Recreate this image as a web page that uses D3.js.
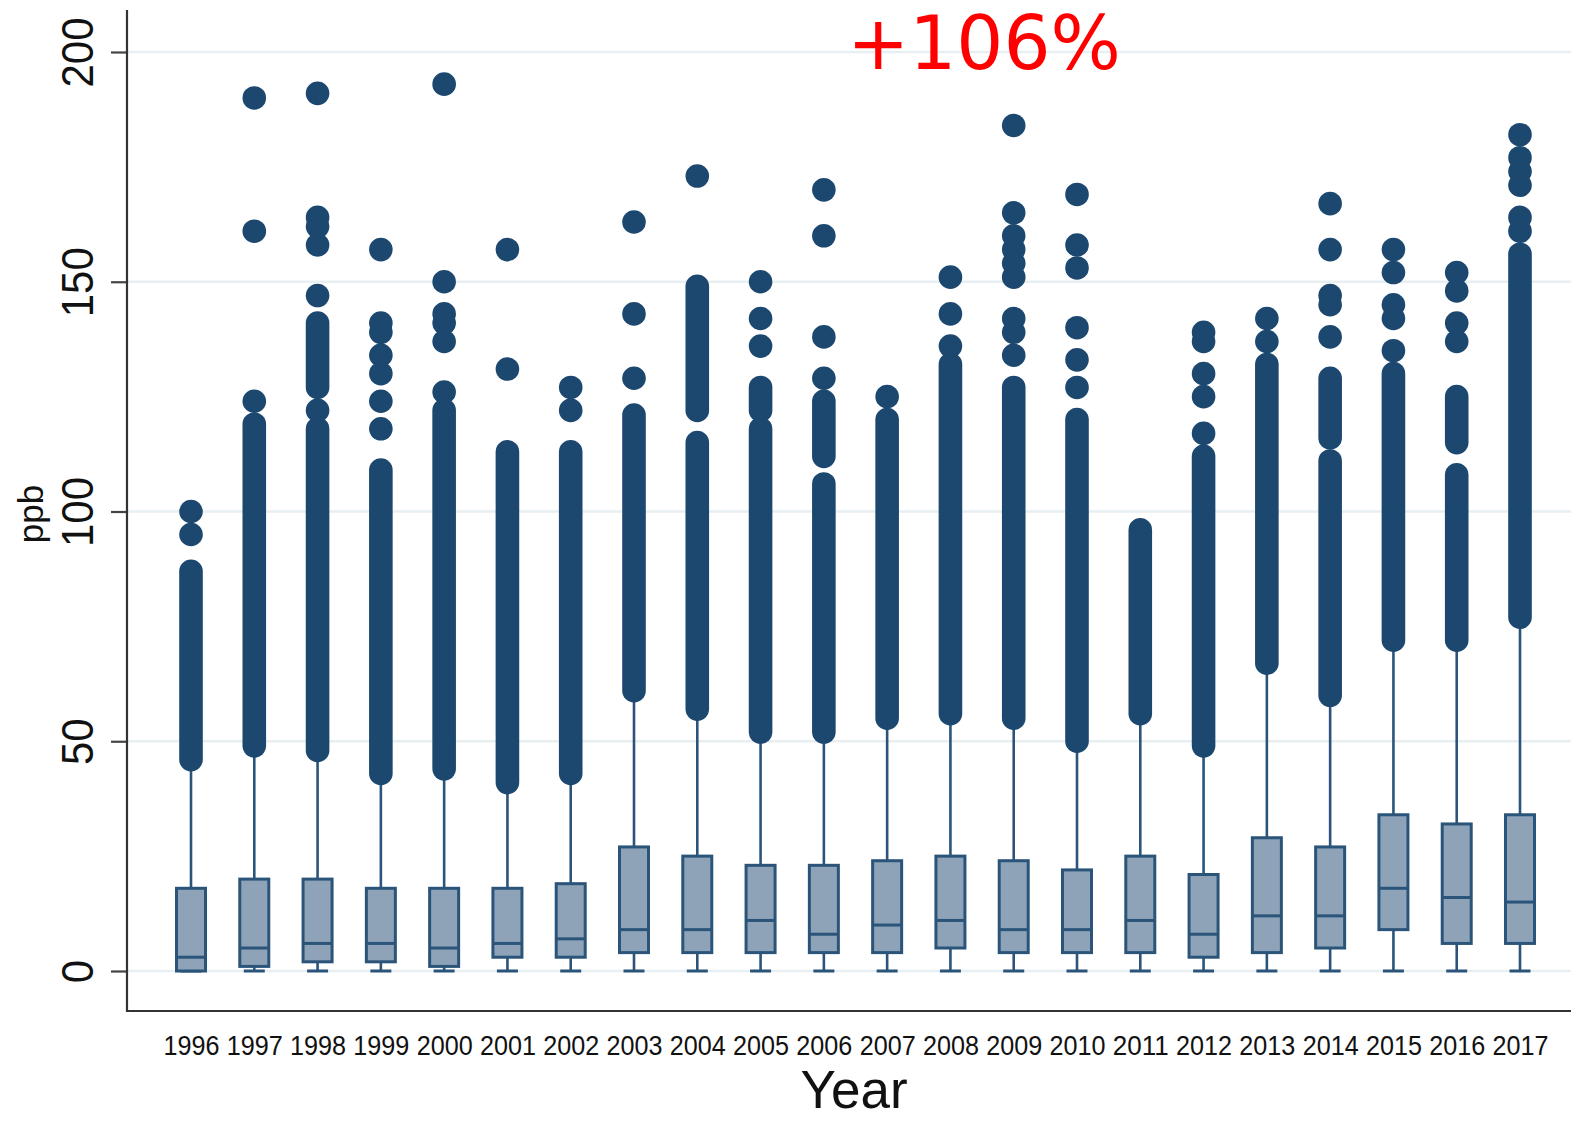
<!DOCTYPE html>
<html>
<head>
<meta charset="utf-8">
<script src="https://cdn.jsdelivr.net/npm/d3@7"></script>
<style>
  body { margin: 0; background: #fff; }
  svg { display: block; }
</style>
</head>
<body>
<svg width="1571" height="1121"></svg>
<script>
// ozone-ish ppb by year
const years = ["1996", "1997", "1998", "1999", "2000", "2001", "2002", "2003", "2004", "2005", "2006",
    "2007", "2008", "2009", "2010", "2011", "2012", "2013", "2014", "2015", "2016", "2017"];

const q1 =     [0, 1, 2, 2, 1, 3, 3, 4, 4, 4, 4, 4, 5, 4, 4, 4, 3, 4, 5, 9, 6, 6];
const median = [3, 5, 6, 6, 5, 6, 7, 9, 9, 11, 8, 10, 11, 9, 9, 11, 8, 12, 12, 18, 16, 15];
const q3 =     [18, 20, 20, 18, 18, 18, 19, 27, 25, 23, 23, 24, 25, 24, 22, 25, 21, 29, 27, 34, 32, 34];
const whiskerLo = [0, 0, 0, 0, 0, 0, 0, 0, 0, 0, 0, 0, 0, 0, 0, 0, 0, 0, 0, 0, 0, 0];
const whiskerHi = [45, 47, 46, 42, 43, 40, 42, 60, 56, 51, 51, 54, 55, 54, 49, 55, 48, 66, 60, 71, 71, 76];

// runs of outside values so packed that the dots merge into a column
const denseRuns = [
    [[46, 87]],
    [[49, 119]],
    [[48, 118], [127, 141]],
    [[43, 109]],
    [[44, 122]],
    [[41, 113]],
    [[43, 113]],
    [[61, 121]],
    [[57, 115], [122, 149]],
    [[52, 118], [122, 127]],
    [[52, 106], [112, 124]],
    [[55, 120]],
    [[56, 132]],
    [[55, 127]],
    [[50, 120]],
    [[56, 96]],
    [[49, 112]],
    [[67, 132]],
    [[60, 111], [116, 129]],
    [[72, 130]],
    [[72, 108], [115, 125]],
    [[77, 156]]
];

// single outside values
const outliers = [
    [95, 100],
    [124, 161, 190],
    [122, 147, 158, 162, 164, 191],
    [118, 124, 130, 134, 139, 141, 157],
    [126, 137, 141, 143, 150, 193],
    [131, 157],
    [122, 127],
    [129, 143, 163],
    [173],
    [136, 142, 150],
    [129, 138, 160, 170],
    [125],
    [136, 143, 151],
    [134, 139, 142, 151, 154, 157, 160, 165, 184],
    [127, 133, 140, 153, 158, 169],
    [],
    [117, 125, 130, 137, 139],
    [137, 142],
    [138, 145, 147, 157, 167],
    [135, 142, 145, 152, 157],
    [137, 141, 148, 152],
    [161, 164, 171, 174, 177, 182]
];

const yTicks = [0, 50, 100, 150, 200];
const note = "+106%";

const dotColor = "#1c4870";
const lineColor = "#2a5479";
const boxFill = "#8ea3b8";
const boxW = 29, capW = 21, dotR = 11.8;

const svg = d3.select("svg");

const x = d3.scalePoint().domain(years).range([191, 1520]);
const y = d3.scaleLinear().domain([0, 200]).range([971, 52]);

// grid
svg.append("g")
    .selectAll("line")
    .data(yTicks)
    .join("line")
    .attr("x1", 128).attr("x2", 1571)
    .attr("y1", d => y(d)).attr("y2", d => y(d))
    .attr("stroke", "#e7eff2")
    .attr("stroke-width", 2.5);

const rows = years.map((yr, i) => ({
    yr: yr, q1: q1[i], med: median[i], q3: q3[i],
    lo: whiskerLo[i], hi: whiskerHi[i],
    runs: denseRuns[i], pts: outliers[i]
}));

const g = svg.append("g");
const item = g.selectAll("g.yr").data(rows).join("g").attr("class", "yr");

// whiskers
item.append("line")
    .attr("x1", d => x(d.yr)).attr("x2", d => x(d.yr))
    .attr("y1", d => y(d.q3)).attr("y2", d => y(d.hi))
    .attr("stroke", lineColor).attr("stroke-width", 2.6);
item.append("line")
    .attr("x1", d => x(d.yr)).attr("x2", d => x(d.yr))
    .attr("y1", d => y(d.q1)).attr("y2", d => y(d.lo))
    .attr("stroke", lineColor).attr("stroke-width", 2.6);
item.append("line")
    .attr("x1", d => x(d.yr) - capW / 2).attr("x2", d => x(d.yr) + capW / 2)
    .attr("y1", d => y(d.lo)).attr("y2", d => y(d.lo))
    .attr("stroke", lineColor).attr("stroke-width", 3);

// boxes
item.append("rect")
    .attr("x", d => x(d.yr) - boxW / 2)
    .attr("width", boxW)
    .attr("y", d => y(d.q3))
    .attr("height", d => y(d.q1) - y(d.q3))
    .attr("fill", boxFill)
    .attr("stroke", lineColor)
    .attr("stroke-width", 3);
item.append("line")
    .attr("x1", d => x(d.yr) - boxW / 2).attr("x2", d => x(d.yr) + boxW / 2)
    .attr("y1", d => y(d.med)).attr("y2", d => y(d.med))
    .attr("stroke", lineColor).attr("stroke-width", 3);

// outside values
item.selectAll("line.run")
    .data(d => d.runs.map(r => ({ yr: d.yr, a: r[0], b: r[1] })))
    .join("line")
    .attr("class", "run")
    .attr("x1", d => x(d.yr)).attr("x2", d => x(d.yr))
    .attr("y1", d => y(d.a)).attr("y2", d => y(d.b))
    .attr("stroke", dotColor)
    .attr("stroke-width", dotR * 2)
    .attr("stroke-linecap", "round");
item.selectAll("circle")
    .data(d => d.pts.map(v => ({ yr: d.yr, v: v })))
    .join("circle")
    .attr("cx", d => x(d.yr))
    .attr("cy", d => y(d.v))
    .attr("r", dotR)
    .attr("fill", dotColor);

// y axis
const yAxis = svg.append("g")
    .attr("transform", "translate(127,0)")
    .call(d3.axisLeft(y).tickValues(yTicks).tickSize(16).tickPadding(0));
yAxis.select(".domain").remove();
yAxis.selectAll(".tick line").attr("stroke", "#444").attr("stroke-width", 2.2);
yAxis.selectAll(".tick text")
    .attr("x", null).attr("dy", null)
    .attr("transform", "translate(-34,0) rotate(-90)")
    .attr("text-anchor", "middle")
    .attr("font-family", "Liberation Sans, Arial, sans-serif")
    .attr("font-size", 45)
    .attr("textLength", d => String(d).length * 23.3)
    .attr("lengthAdjust", "spacingAndGlyphs")
    .attr("fill", "#111");

svg.append("line")
    .attr("x1", 127).attr("x2", 127).attr("y1", 10).attr("y2", 1012)
    .attr("stroke", "#333").attr("stroke-width", 2.2);

// x axis
const xAxis = svg.append("g")
    .attr("transform", "translate(0,1011)")
    .call(d3.axisBottom(x).tickSize(0));
xAxis.select(".domain").remove();
xAxis.selectAll(".tick text")
    .attr("y", 44).attr("dy", null)
    .attr("font-family", "Liberation Sans, Arial, sans-serif")
    .attr("font-size", 28)
    .attr("textLength", 56)
    .attr("lengthAdjust", "spacingAndGlyphs")
    .attr("fill", "#111");

svg.append("line")
    .attr("x1", 126).attr("x2", 1571).attr("y1", 1011).attr("y2", 1011)
    .attr("stroke", "#333").attr("stroke-width", 2.2);

// titles
svg.append("text")
    .attr("transform", "translate(43,514) rotate(-90)")
    .attr("text-anchor", "middle")
    .attr("font-family", "Liberation Sans, Arial, sans-serif")
    .attr("font-size", 35)
    .attr("fill", "#111")
    .text("ppb");

svg.append("text")
    .attr("x", 854).attr("y", 1108)
    .attr("text-anchor", "middle")
    .attr("font-family", "Liberation Sans, Arial, sans-serif")
    .attr("font-size", 53)
    .attr("fill", "#111")
    .text("Year");

svg.append("text")
    .attr("x", 984).attr("y", 69)
    .attr("text-anchor", "middle")
    .attr("font-family", "DejaVu Sans, Verdana, sans-serif")
    .attr("font-size", 74)
    .attr("fill", "#ff0000")
    .text(note);
</script>
</body>
</html>
